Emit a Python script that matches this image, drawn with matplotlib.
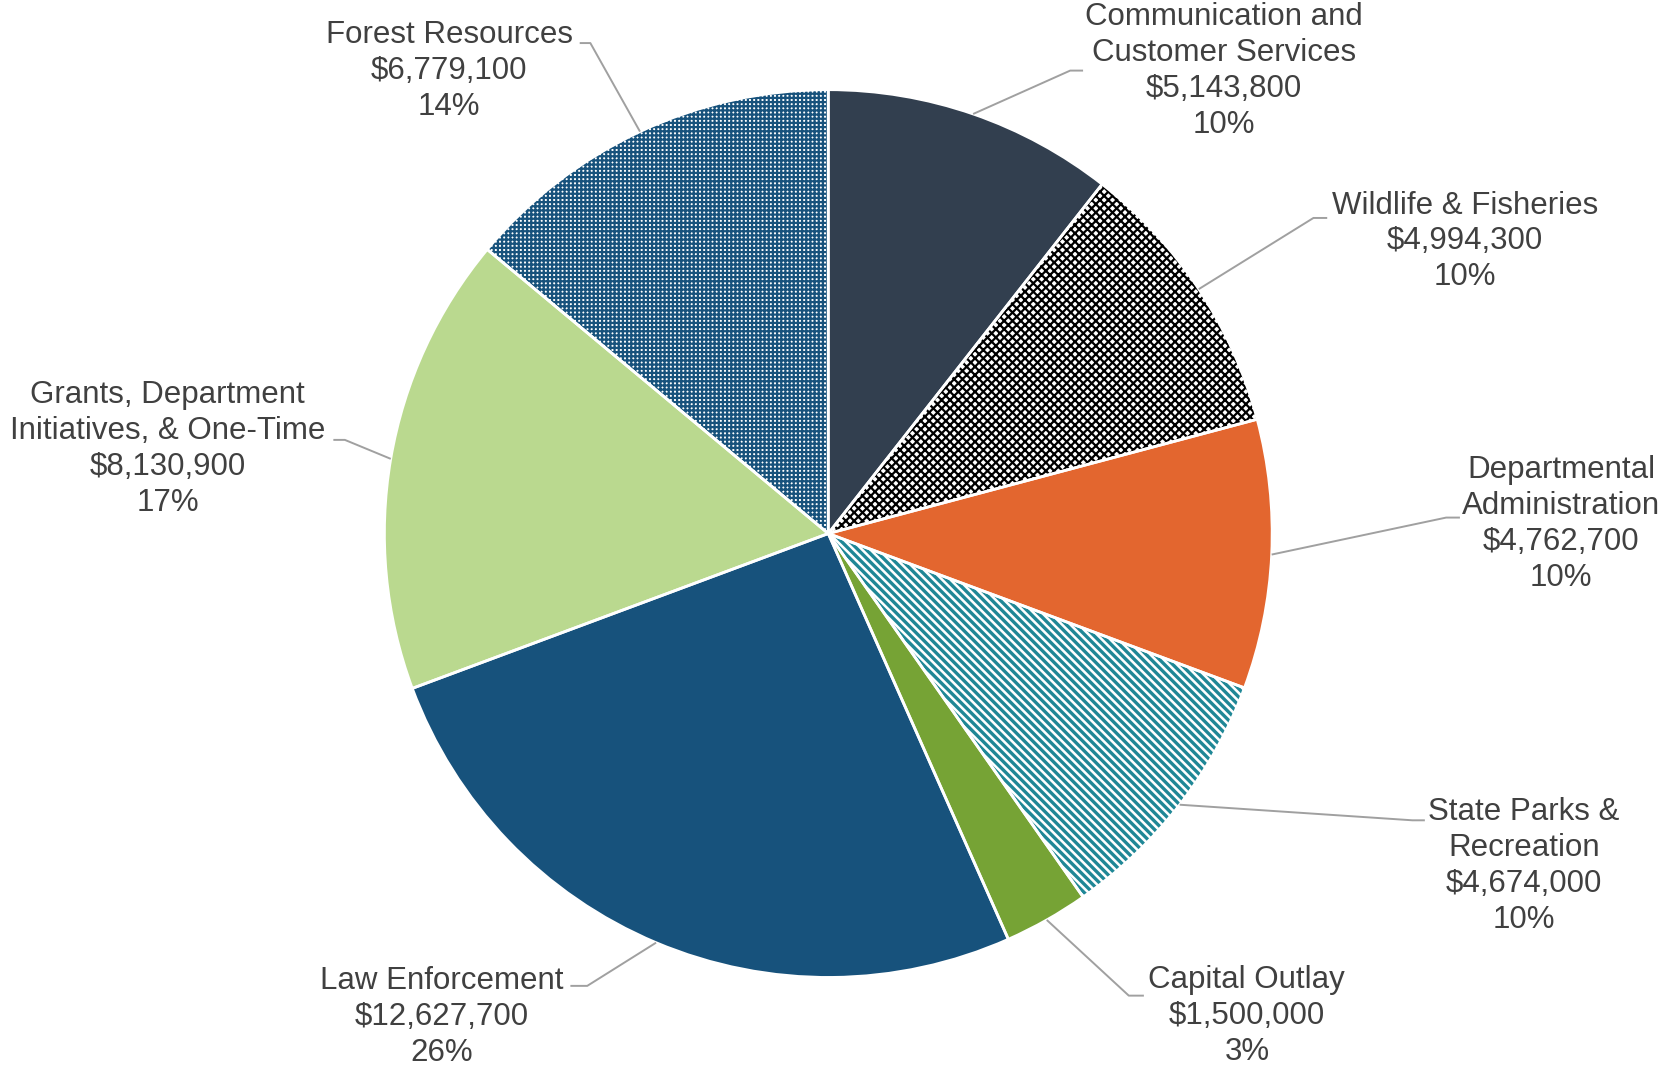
import matplotlib.pyplot as plt
import numpy as np

# budget data (clockwise from top)
programs = ['Communication and\nCustomer Services', 'Wildlife & Fisheries',
            'Departmental\nAdministration', 'State Parks &\nRecreation',
            'Capital Outlay', 'Law Enforcement',
            'Grants, Department\nInitiatives, & One-Time', 'Forest Resources']
amounts = [5143800, 4994300, 4762700, 4674000, 1500000, 12627700, 8130900, 6779100]
pct_labels = ['10%', '10%', '10%', '10%', '3%', '26%', '17%', '14%']

face_colors = ['#323F4F', '#FFFFFF', '#E3662F', '#FFFFFF', '#76A335', '#17527C', '#BAD98F', '#FFFFFF']
hatches = [None, 'xxxx', None, '\\\\\\\\', None, None, None, '++++']
hatch_colors = [None, '#000000', None, '#1F8796', None, None, None, '#17527C']
hatch_widths = [None, 1.6, None, 2.4, None, None, None, 1.6]

# label layout (data units, pie radius = 1)
text_pos = [(0.892, 1.043), (1.435, 0.658), (1.651, 0.022), (1.567, -0.749),
            (0.943, -1.086), (-0.871, -1.089), (-1.488, 0.191), (-0.854, 1.043)]
elbow_pos = [(0.545, 1.043), (1.093, 0.711), (1.392, 0.036), (1.316, -0.646),
             (0.677, -1.041), (-0.543, -1.019), (-1.089, 0.211), (-0.536, 1.105)]
end_pos = [(0.574, 1.043), (1.124, 0.711), (1.423, 0.036), (1.344, -0.646),
           (0.711, -1.041), (-0.581, -1.019), (-1.115, 0.211), (-0.560, 1.105)]

plt.rcParams['font.family'] = ['Liberation Sans', 'DejaVu Sans']
plt.rcParams['hatch.linewidth'] = 1.6

fig = plt.figure(figsize=(16.65, 10.68), dpi=100)
ax = fig.add_axes([0, 0, 1, 1])

wedges, _ = ax.pie(amounts, startangle=90, counterclock=False, radius=1,
                   colors=face_colors, wedgeprops=dict(linewidth=0))
for w, h, hc, hw in zip(wedges, hatches, hatch_colors, hatch_widths):
    if h:
        w.set_hatch(h)
        w.set_edgecolor(hc)
        w.set_linewidth(0)
        if hasattr(w, 'set_hatch_linewidth'):
            w.set_hatch_linewidth(hw)

# white borders on top
ax.pie(amounts, startangle=90, counterclock=False, radius=1,
       colors=['none'] * len(amounts),
       wedgeprops=dict(edgecolor='white', linewidth=2, fill=False))

for w, name, amt, pct, tp, ep, en in zip(wedges, programs, amounts, pct_labels,
                                         text_pos, elbow_pos, end_pos):
    ang = np.deg2rad((w.theta1 + w.theta2) / 2)
    sx, sy = np.cos(ang), np.sin(ang)
    ax.plot([sx, ep[0], en[0]], [sy, ep[1], en[1]], color='#A0A0A0', lw=1.4,
            solid_capstyle='butt', zorder=1)
    label = f'{name}\n${amt:,}\n{pct}'
    ax.text(tp[0], tp[1], label, ha='center', va='center', multialignment='center',
            fontsize=22.5, color='#404040', linespacing=1.26, parse_math=False)

ax.set_xlim(-1.866, 1.885)
ax.set_ylim(-1.203, 1.201)
ax.set_aspect('equal')
ax.axis('off')

fig.savefig('out.png', dpi=100, facecolor='white')
